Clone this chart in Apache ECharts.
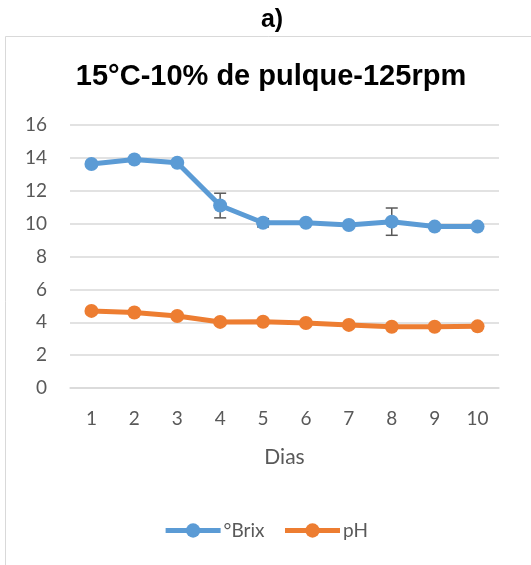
<!DOCTYPE html>
<html><head><meta charset="utf-8">
<script src="https://cdn.jsdelivr.net/npm/echarts@6/dist/echarts.min.js"></script>
<style>html,body{margin:0;padding:0;background:#fff}#c{width:531px;height:565px}</style>
</head><body><div id="c"></div>
<script>
const days = ['1','2','3','4','5','6','7','8','9','10'];
const brix = [13.63, 13.9, 13.7, 11.1, 10.05, 10.05, 9.92, 10.12, 9.82, 9.82];
const brixErr = [0.05, 0.05, 0.05, 0.75, 0.25, 0.05, 0.05, 0.83, 0.05, 0.05];
const ph = [4.69, 4.59, 4.38, 4.02, 4.03, 3.95, 3.84, 3.73, 3.73, 3.75];
const phErr = [0.03, 0.03, 0.03, 0.03, 0.03, 0.03, 0.03, 0.03, 0.03, 0.03];
const yTicks = [0, 2, 4, 6, 8, 10, 12, 14, 16];

const FONT = 'Lato';
const errData = [];
brix.forEach((v, i) => errData.push([i, v - brixErr[i], v + brixErr[i]]));
ph.forEach((v, i) => errData.push([i, v - phErr[i], v + phErr[i]]));

const chart = echarts.init(document.getElementById('c'), null, {renderer: 'canvas'});
chart.setOption({
  animation: false,
  backgroundColor: '#fff',
  graphic: [
    {type: 'rect', shape: {x: 5.5, y: 36.5, width: 600, height: 600}, style: {fill: 'none', stroke: '#d9d9d9', lineWidth: 1}, z: -10},
    {type: 'text', x: 272, y: 20, style: {text: 'a)', font: 'bold 25px "Liberation Sans", Arial', fill: '#000', align: 'center', verticalAlign: 'middle'}},
    {type: 'text', x: 271, y: 77, style: {text: '15°C-10% de pulque-125rpm', font: 'bold 29px "Liberation Sans", Arial', fill: '#000', align: 'center', verticalAlign: 'middle'}}
  ],
  legend: {
    top: 516, left: 'center',
    itemWidth: 55, itemHeight: 18, itemGap: 18,
    lineStyle: {width: 5},
    textStyle: {fontFamily: FONT, fontSize: 19, color: '#595959', padding: [0, 0, 0, -2]},
    data: ['°Brix', 'pH']
  },
  grid: {left: 70, right: 32, top: 125, bottom: 177},
  xAxis: {
    type: 'category', data: days, boundaryGap: true,
    name: 'Dias', nameLocation: 'middle', nameGap: 59,
    nameTextStyle: {fontFamily: FONT, fontSize: 21, color: '#595959'},
    axisLine: {show: true, lineStyle: {color: '#d9d9d9', width: 1.5}},
    axisTick: {show: false},
    axisLabel: {fontFamily: FONT, fontSize: 19, color: '#595959', margin: 21}
  },
  yAxis: {
    type: 'value', min: 0, max: 16, interval: 2,
    axisLine: {show: false}, axisTick: {show: false},
    axisLabel: {fontFamily: FONT, fontSize: 19, color: '#595959', margin: 23},
    splitLine: {lineStyle: {color: '#d9d9d9', width: 1.5}}
  },
  series: [
    {
      name: 'err', type: 'custom', z: 1, silent: true,
      data: errData,
      renderItem: function (params, api) {
        const x = api.value(0);
        const lo = api.coord([x, api.value(1)]);
        const hi = api.coord([x, api.value(2)]);
        const hw = 6;
        const st = {stroke: '#595959', lineWidth: 1.5};
        return {type: 'group', children: [
          {type: 'line', shape: {x1: lo[0], y1: lo[1], x2: hi[0], y2: hi[1]}, style: st},
          {type: 'line', shape: {x1: lo[0] - hw, y1: lo[1], x2: lo[0] + hw, y2: lo[1]}, style: st},
          {type: 'line', shape: {x1: hi[0] - hw, y1: hi[1], x2: hi[0] + hw, y2: hi[1]}, style: st}
        ]};
      },
      encode: {x: 0, y: [1, 2]}
    },
    {
      name: '°Brix', type: 'line', data: brix, z: 2,
      symbol: 'circle', symbolSize: 14,
      itemStyle: {color: '#5B9BD5'},
      lineStyle: {color: '#5B9BD5', width: 5}
    },
    {
      name: 'pH', type: 'line', data: ph, z: 2,
      symbol: 'circle', symbolSize: 14,
      itemStyle: {color: '#ED7D31'},
      lineStyle: {color: '#ED7D31', width: 5}
    }
  ]
});
</script></body></html>
